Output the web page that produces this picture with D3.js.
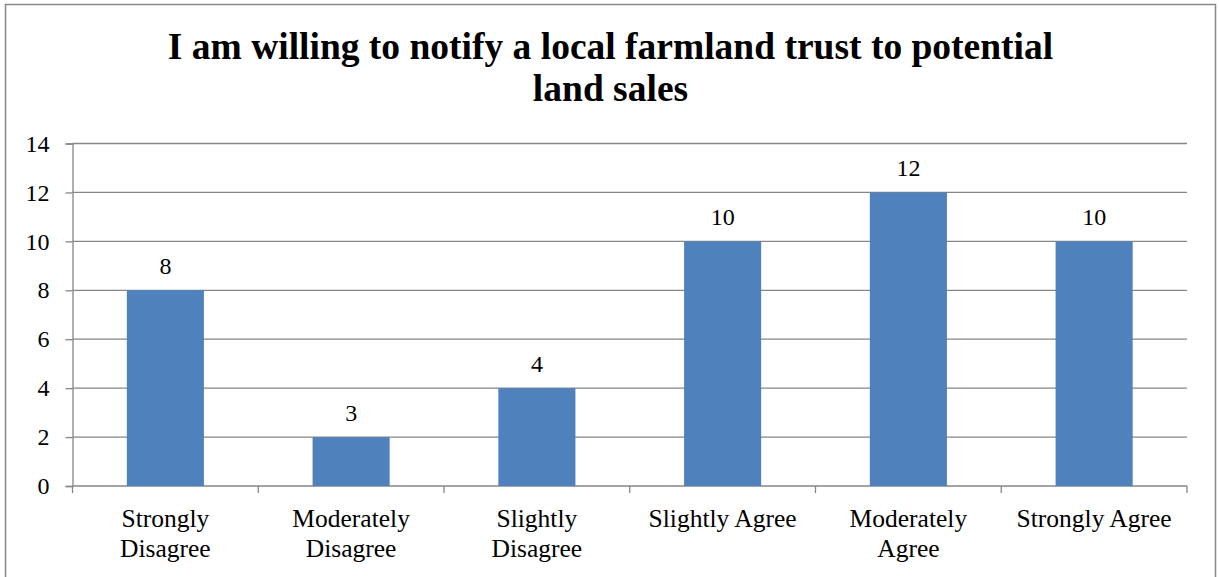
<!DOCTYPE html>
<html>
<head>
<meta charset="utf-8">
<script src="https://cdn.jsdelivr.net/npm/d3@7"></script>
<style>
  body { margin: 0; background: #fff; overflow: hidden; }
  text { font-family: "Liberation Serif", "Times New Roman", serif; }
</style>
</head>
<body>
<div id="chart-area"></div>
<script>
// chart data
const categories = [["Strongly", "Disagree"], ["Moderately", "Disagree"], ["Slightly", "Disagree"],
                    ["Slightly Agree"], ["Moderately", "Agree"], ["Strongly Agree"]];
const values = [8, 2, 4, 10, 12, 10];
const valueLabels = ["8", "3", "4", "10", "12", "10"];
const yTicks = [0, 2, 4, 6, 8, 10, 12, 14];
const titleLines = ["I am willing to notify a local farmland trust to potential", "land sales"];

const serif = '"Liberation Serif", "Times New Roman", serif';

const width = 1219;
const height = 577;
const margin = {top: 143.5, right: 32, bottom: 91, left: 72.5};

const innerWidth = width - margin.left - margin.right;
const innerHeight = height - margin.top - margin.bottom;

const svg = d3.select('#chart-area')
    .append('svg')
    .attr('width', width)
    .attr('height', height)
    .style('display', 'block');

// outer frame (bottom edge lies below the picture)
svg.append('path')
    .attr('d', `M5.5,${height}V4.5H1215.5V${height}`)
    .attr('fill', 'none')
    .attr('stroke', '#888')
    .attr('stroke-width', 1.5);

const title = svg.append('text')
    .attr('text-anchor', 'middle')
    .attr('font-family', serif)
    .attr('font-weight', 'bold')
    .attr('font-size', '37.5px')
    .attr('fill', '#000');

titleLines.forEach((t, i) => {
    title.append('tspan')
        .attr('x', 610.5)
        .attr('y', 59 + i * 42)
        .text(t);
});

const g = svg.append('g')
    .attr('transform', `translate(${margin.left},${margin.top})`);

const x = d3.scaleBand()
    .domain(d3.range(categories.length))
    .range([0, innerWidth]);

const y = d3.scaleLinear()
    .domain([0, 14])
    .range([innerHeight, 0]);

// gridlines
g.selectAll('.grid')
    .data(yTicks.filter(d => d > 0))
    .enter()
    .append('line')
    .attr('x1', 0)
    .attr('x2', innerWidth)
    .attr('y1', d => y(d))
    .attr('y2', d => y(d))
    .attr('stroke', '#868686')
    .attr('stroke-width', 1.3);

// y axis
const yAxis = d3.axisLeft(y)
    .tickValues(yTicks)
    .tickSize(7)
    .tickPadding(16);

const yG = g.append('g').call(yAxis);
yG.attr('font-family', serif);
yG.selectAll('text')
    .attr('font-size', '24px')
    .attr('fill', '#000')
    .attr('font-family', serif);
yG.selectAll('line, path').attr('stroke', '#868686').attr('stroke-width', 1.3);

// x axis with ticks at band edges
const xG = g.append('g')
    .attr('transform', `translate(0,${innerHeight})`);

xG.append('line')
    .attr('x1', 0)
    .attr('x2', innerWidth)
    .attr('stroke', '#868686')
    .attr('stroke-width', 1.3);

xG.selectAll('.tick')
    .data(d3.range(categories.length + 1))
    .enter()
    .append('line')
    .attr('x1', d => d * x.step())
    .attr('x2', d => d * x.step())
    .attr('y1', 0)
    .attr('y2', 7)
    .attr('stroke', '#868686')
    .attr('stroke-width', 1.3);

const catLabels = xG.selectAll('.cat')
    .data(categories)
    .enter()
    .append('text')
    .attr('text-anchor', 'middle')
    .attr('font-family', serif)
    .attr('font-size', '25.5px')
    .attr('fill', '#000');

catLabels.each(function(lines, i) {
    lines.forEach((line, j) => {
        d3.select(this).append('tspan')
            .attr('x', x(i) + x.bandwidth() / 2)
            .attr('y', 41 + j * 29.5)
            .text(line);
    });
});

// bars
const barW = x.bandwidth() * 0.415;

g.selectAll('.bar')
    .data(values)
    .enter()
    .append('rect')
    .attr('x', (d, i) => x(i) + (x.bandwidth() - barW) / 2)
    .attr('y', d => y(d))
    .attr('width', barW)
    .attr('height', d => innerHeight - y(d))
    .attr('fill', '#4F81BD');

g.selectAll('.val')
    .data(values)
    .enter()
    .append('text')
    .attr('text-anchor', 'middle')
    .attr('font-family', serif)
    .attr('font-size', '24px')
    .attr('fill', '#000')
    .attr('x', (d, i) => x(i) + x.bandwidth() / 2)
    .attr('y', d => y(d) - 16)
    .text((d, i) => valueLabels[i]);
</script>
</body>
</html>
